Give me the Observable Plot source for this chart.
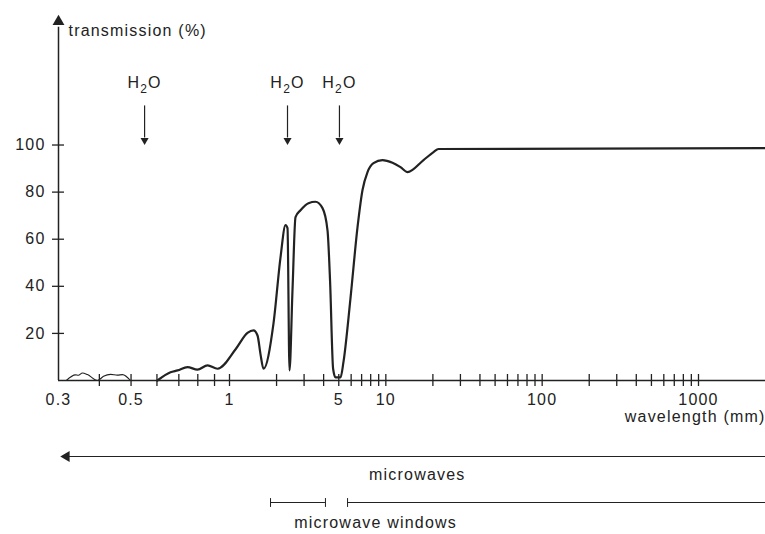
<!DOCTYPE html>
<html><head><meta charset="utf-8">
<script src="https://cdn.jsdelivr.net/npm/d3@7"></script>
<script src="https://cdn.jsdelivr.net/npm/@observablehq/plot@0.6"></script>
<style>body{margin:0;background:#fff} #chart svg{display:block}</style>
</head><body><div id="chart"></div>
<script>
// Main transmission curve (wavelength, transmission %)
const wavelength = [0.602, 0.66, 0.694, 0.744, 0.798, 0.857, 0.919, 1.1, 1.303, 1.424, 1.511, 1.58, 1.65, 1.912, 2.12, 2.282, 2.35, 2.42, 2.529, 2.644, 2.846, 3.201, 3.549, 3.935, 4.236, 4.40, 4.60, 4.766, 5.131, 5.362, 5.943, 6.588, 7.093, 7.636, 8.339, 9.522, 11.03, 12.41, 13.76, 17.42, 20.18, 21.73, 2683];
const transmission = [0, 3.5, 4.3, 5.7, 4.6, 6.4, 5.0, 13.5, 20.2, 21.3, 19.1, 11, 5.0, 24.3, 52.3, 66.0, 64.7, 4.3, 38.3, 69.4, 72.3, 75.3, 75.9, 73.2, 63.8, 42, 5, 1.3, 1.3, 8, 35, 65, 80.9, 88.5, 92.3, 93.6, 92.5, 90.6, 88.5, 93.6, 97, 98.3, 98.7];
// Thin low-transmission segment at short wavelengths
const thinWavelength = [0.317, 0.338, 0.345, 0.355, 0.368, 0.395, 0.412, 0.433, 0.454, 0.471, 0.498];
const thinTransmission = [0, 2.4, 2.2, 3.2, 2.5, 0, 1.8, 2.6, 2.3, 2.5, 0];
// Water absorption bands
const h2oBands = [0.55, 2.35, 5.05];
const h2oLabel = "H2O";
// Axis ticks
const xTicks = [0.4, 0.5, 0.6, 0.7, 0.8, 0.9, 1, 2, 3, 4, 5, 6, 7, 8, 9, 10, 20, 30, 40, 50, 60, 70, 80, 90, 100, 200, 300, 400, 500, 600, 700, 800, 900, 1000];
const xTickLabels = [0.3, 0.5, 1, 5, 10, 100, 1000];
const yTicks = [20, 40, 60, 80, 100];
// Bands below the axis
const windowStart = [1.83, 5.69];
const windowEnd = [4.11, 2683];
const windowCaps = [1.83, 4.11, 5.69];
const xMin = 0.3, xBreak = 1, xMax = 2683;
const microwavesLabelAt = 15.9;
const windowsLabelAt = 8.6;

const curve = wavelength.map((w, i) => ({w, t: transmission[i]}));
const thin = thinWavelength.map((w, i) => ({w, t: thinTransmission[i]}));
const windows = windowStart.map((s, i) => ({start: s, end: windowEnd[i]}));

const ink = "#222";
const vbar = {draw(ctx, size) { const h = Math.sqrt(size) / 2; ctx.moveTo(0, -h); ctx.lineTo(0, h); }};

const chart = Plot.plot({
  width: 765, height: 534,
  marginLeft: 58, marginRight: 0, marginTop: 15, marginBottom: 154,
  style: {fontFamily: "'Liberation Sans', Arial, sans-serif", fontSize: "16px", letterSpacing: "1.2px", color: ink, background: "white"},
  x: {type: "log", domain: [xMin, xBreak, xMax], range: [58, 229, 765]},
  y: {domain: [0, 155]},
  marks: [
    Plot.ruleY([0], {x1: xMin, x2: xMax, stroke: ink, strokeWidth: 1.5}),
    Plot.ruleX([xMin], {y1: 0, y2: 150, stroke: ink, strokeWidth: 1.5}),
    Plot.dot([xMin], {x: d => d, y: 152.4, symbol: "triangle", r: 4.4, fill: ink, stroke: "none"}),
    Plot.axisX(xTicks, {tickSize: 12, dy: -6, tickFormat: () => "", stroke: ink, strokeWidth: 1.3}),
    Plot.text(xTickLabels, {x: d => d, y: 0, dy: 19.5, text: d => String(d), fill: ink}),
    Plot.axisY(yTicks, {tickSize: 12, dx: 6, tickPadding: 7, stroke: ink, strokeWidth: 1.3, fill: ink, label: null}),
    Plot.text(["transmission (%)"], {x: xMin, y: 148.3, dx: 10, text: d => d, textAnchor: "start", fill: ink}),
    Plot.text(["wavelength (mm)"], {x: xMax, y: 0, dy: 36, dx: 0, textAnchor: "end", text: d => d, fill: ink}),
    Plot.line(thin, {x: "w", y: "t", curve: "monotone-x", stroke: ink, strokeWidth: 1.1}),
    Plot.line(curve, {x: "w", y: "t", curve: "monotone-x", stroke: ink, strokeWidth: 2.2}),
    Plot.ruleX(h2oBands, {x: d => d, y1: 116.6, y2: 103, stroke: ink, strokeWidth: 1.2}),
    Plot.dot(h2oBands, {x: d => d, y: 102, symbol: "triangle", rotate: 180, r: 3, fill: ink, stroke: "none"}),
    Plot.text(h2oBands, {x: d => d, y: 126.4, text: () => h2oLabel, className: "h2o", fill: ink}),
    Plot.ruleY([0], {x1: xMin, x2: xMax, dx: 6, dy: 76, stroke: ink, strokeWidth: 1.2}),
    Plot.dot([xMin], {x: d => d, y: 0, dx: 8, dy: 76, symbol: "triangle", rotate: -90, r: 4, fill: ink, stroke: "none"}),
    Plot.text(["microwaves"], {x: microwavesLabelAt, y: 0, dy: 94, text: d => d, fill: ink}),
    Plot.ruleY(windows, {x1: "start", x2: "end", y: 0, dy: 122, stroke: ink, strokeWidth: 1}),
    Plot.dot(windowCaps, {x: d => d, y: 0, dy: 122, symbol: vbar, r: 5, stroke: ink, fill: "none", strokeWidth: 1}),
    Plot.text(["microwave windows"], {x: windowsLabelAt, y: 0, dy: 142, text: d => d, fill: ink})
  ]
});

// Subscript the 2 in H2O
chart.querySelectorAll("g.h2o text").forEach(t => {
  const s = t.textContent;
  t.textContent = "";
  const ns = "http://www.w3.org/2000/svg";
  const a = document.createElementNS(ns, "tspan"); a.textContent = s[0];
  const b = document.createElementNS(ns, "tspan"); b.textContent = s[1]; b.setAttribute("dy", "5"); b.setAttribute("font-size", "12");
  const c = document.createElementNS(ns, "tspan"); c.textContent = s.slice(2); c.setAttribute("dy", "-5");
  t.append(a, b, c);
});

document.getElementById("chart").append(chart);
</script>
</body></html>
